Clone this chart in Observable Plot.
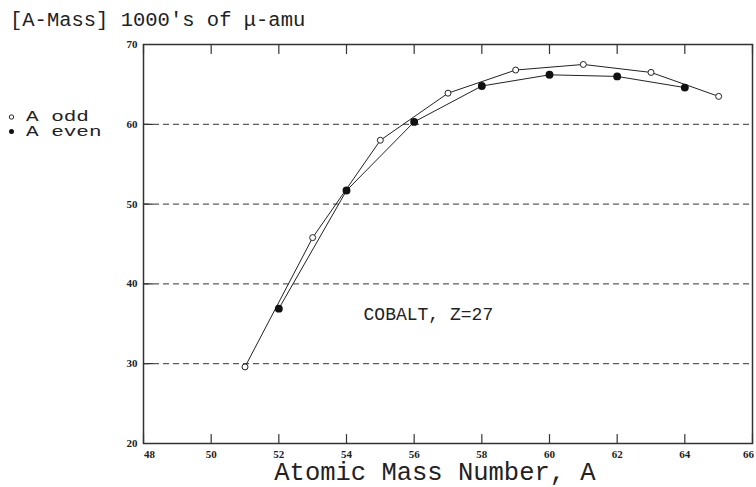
<!DOCTYPE html>
<html><head><meta charset="utf-8">
<script src="https://cdn.jsdelivr.net/npm/d3@7"></script>
<script src="https://cdn.jsdelivr.net/npm/@observablehq/plot@0.6"></script>
<style>
body{margin:0;background:#fff}
#chart{width:756px;height:487px}
</style></head><body>
<div id="chart"></div>
<script>
const oddA = [51, 53, 55, 57, 59, 61, 63, 65];
const oddMass = [29.6, 45.8, 58.0, 63.9, 66.8, 67.5, 66.5, 63.5];
const evenA = [52, 54, 56, 58, 60, 62, 64];
const evenMass = [36.9, 51.7, 60.3, 64.8, 66.2, 66.0, 64.6];
const xTicks = [48, 50, 52, 54, 56, 58, 60, 62, 64, 66];
const yTicks = [20, 30, 40, 50, 60, 70];
const gridY = [30, 40, 50, 60];
const noteA = [56.42];
const noteMass = [36.2];
const noteText = ["COBALT, Z=27"];
const titleText = "[A-Mass] 1000's of \u03bc-amu";
const xLabel = "Atomic Mass Number, A";
const legendLabels = ["A odd", "A even"];

const odd = oddA.map((a, i) => ({A: a, mass: oddMass[i]}));
const even = evenA.map((a, i) => ({A: a, mass: evenMass[i]}));
const note = noteA.map((a, i) => ({A: a, mass: noteMass[i], text: noteText[i]}));

const tickShape = {draw(ctx, l) { ctx.moveTo(0, 0); ctx.lineTo(0, -l); }};
const ink = "#222";
const tickFont = {fontSize: 11, fontFamily: "Liberation Serif", fontWeight: "bold", label: null, tickSize: 0, tickPadding: 7};

const svg = Plot.plot({
  width: 756, height: 487,
  marginLeft: 143, marginRight: 4, marginTop: 44, marginBottom: 44,
  x: {domain: [48, 66]},
  y: {domain: [20, 70]},
  style: {background: "#fff", color: ink, overflow: "visible"},
  marks: [
    Plot.ruleY(gridY, {stroke: "#333", strokeWidth: 1, strokeDasharray: "6,4"}),
    Plot.frame({stroke: "#333", strokeWidth: 1.5}),
    Plot.vector(xTicks, {x: d => d, y: () => 20, length: 9, rotate: 0, anchor: "start", shape: tickShape, stroke: "#333", strokeWidth: 1.2}),
    Plot.vector(xTicks, {x: d => d, y: () => 70, length: 9, rotate: 180, anchor: "start", shape: tickShape, stroke: "#333", strokeWidth: 1.2}),
    Plot.vector(yTicks, {x: () => 48, y: d => d, length: 9, rotate: 90, anchor: "start", shape: tickShape, stroke: "#333", strokeWidth: 1.2}),
    Plot.axisX(xTicks.slice(0, 1), {...tickFont, dx: 6}),
    Plot.axisX(xTicks.slice(1, -1), tickFont),
    Plot.axisX(xTicks.slice(-1), {...tickFont, dx: -4}),
    Plot.axisY(yTicks, {...tickFont, tickPadding: 6}),
    Plot.line(odd, {x: "A", y: "mass", stroke: ink, strokeWidth: 1}),
    Plot.line(even, {x: "A", y: "mass", stroke: ink, strokeWidth: 1}),
    Plot.dot(odd, {x: "A", y: "mass", r: 3, fill: "#fff", stroke: ink, strokeWidth: 1}),
    Plot.dot(even, {x: "A", y: "mass", r: 3.2, fill: "#111", stroke: "#111"}),
    Plot.text(note, {x: "A", y: "mass", text: "text", fontSize: 18, fontFamily: "Liberation Mono", fill: ink, textAnchor: "middle"})
  ]
});

const s = d3.select(svg);
s.append("text").attr("x", 10).attr("y", 26).attr("text-anchor", "start")
  .attr("font-family", "Liberation Mono").attr("font-size", 20.5).attr("fill", ink)
  .text(titleText);
s.append("text").attr("x", 435).attr("y", 480).attr("text-anchor", "middle")
  .attr("font-family", "Liberation Mono").attr("font-size", 25.5).attr("fill", ink)
  .text(xLabel);
// legend
const lg = s.append("g");
lg.append("circle").attr("cx", 11.5).attr("cy", 117).attr("r", 2.2).attr("fill", "#fff").attr("stroke", ink);
lg.append("circle").attr("cx", 11.5).attr("cy", 131.5).attr("r", 2.5).attr("fill", "#111");
lg.append("g").attr("transform", "translate(26,0) scale(1.4,1)")
  .selectAll("text").data(legendLabels).join("text")
  .attr("x", 0).attr("y", (d, i) => 121 + i * 15).attr("text-anchor", "start")
  .attr("font-family", "Liberation Mono").attr("font-size", 15)
  .attr("fill", ink)
  .text(d => d);

document.getElementById("chart").appendChild(svg);
</script>
</body></html>
